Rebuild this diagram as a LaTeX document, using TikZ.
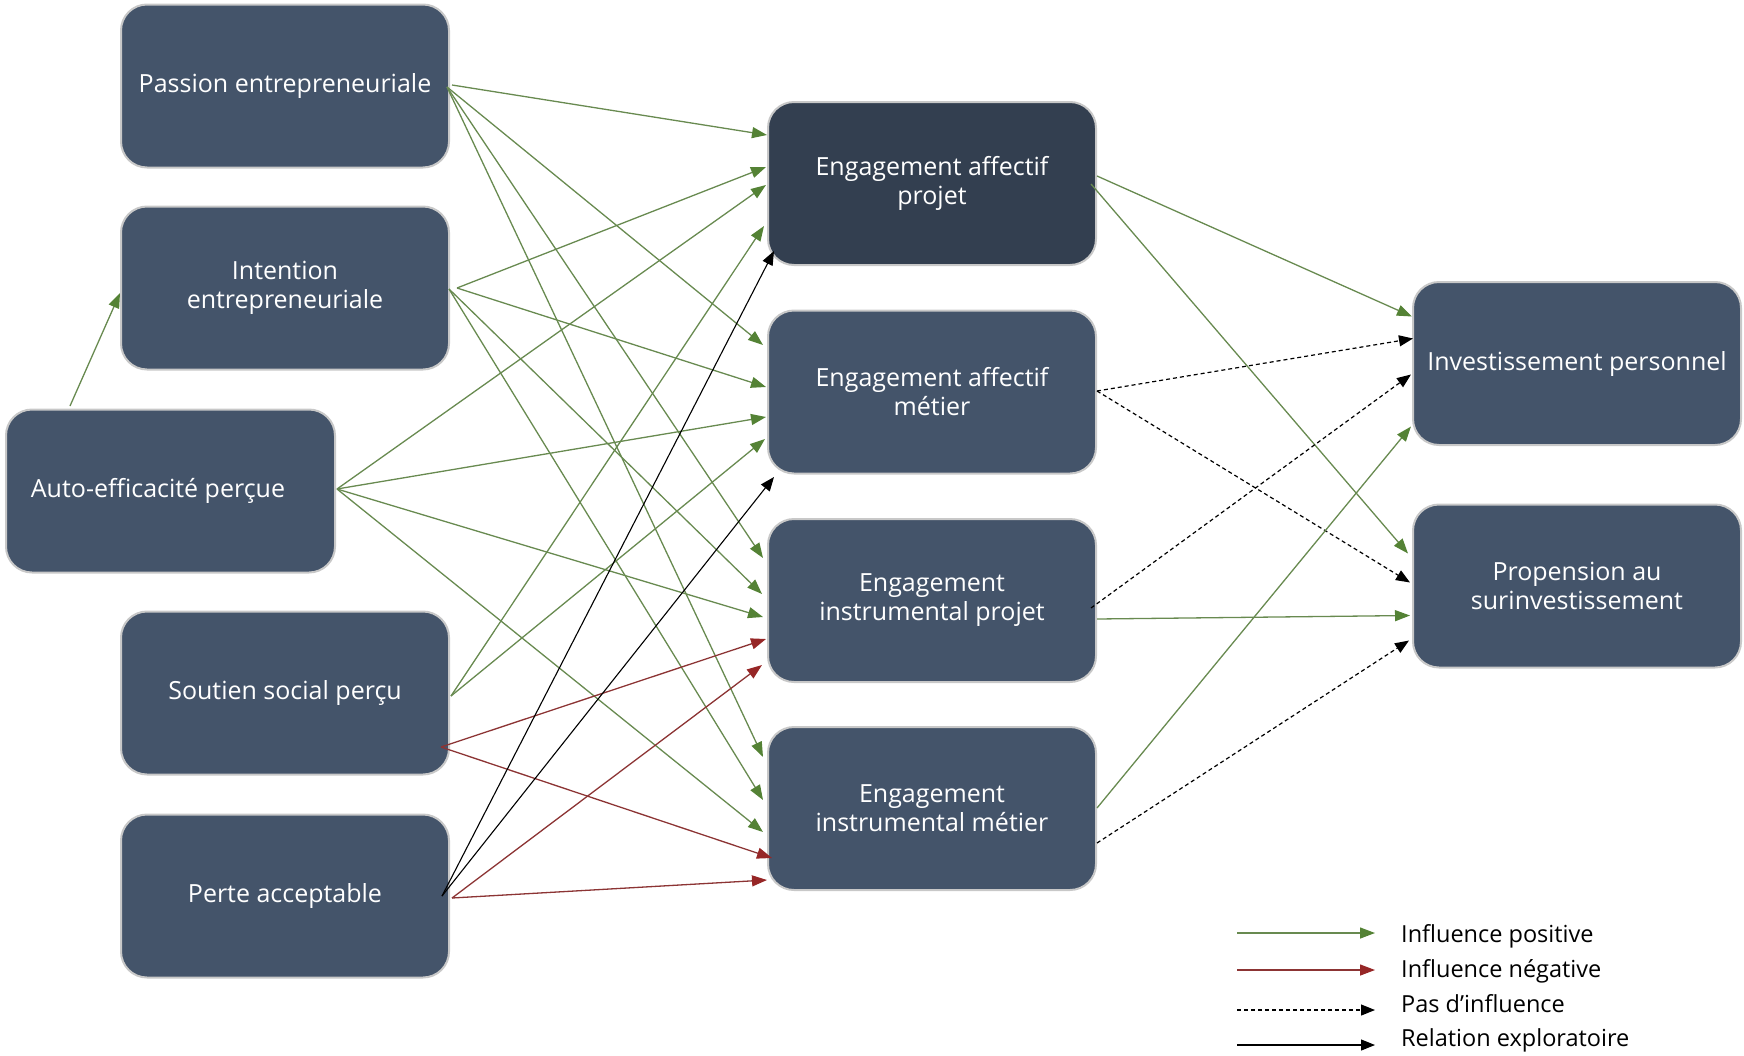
\documentclass[tikz,border=0pt]{standalone}
\usepackage{fontspec}
\setmainfont{Open Sans}
\usetikzlibrary{arrows.meta,calc}
\definecolor{boxfill}{RGB}{68,84,106}
\definecolor{boxdark}{RGB}{51,63,80}
\definecolor{boxborder}{RGB}{200,200,200}
\definecolor{gline}{RGB}{104,138,80}
\definecolor{ghead}{RGB}{84,130,53}
\definecolor{rline}{RGB}{140,52,52}
\definecolor{rhead}{RGB}{150,38,38}
\begin{document}
\begin{tikzpicture}[x=1pt,y=-1pt,
  box/.style={draw=boxborder, line width=2pt, fill=boxfill, rounded corners=26pt,
    minimum width=328pt, minimum height=163pt, text=white, align=center,
    font=\fontsize{25}{29}\selectfont, inner sep=0pt},
  posarr/.style={draw=gline, line width=1.3pt, -{Triangle[length=15pt,width=11pt,color=ghead]}},
  negarr/.style={draw=rline, line width=1.3pt, -{Triangle[length=15pt,width=11pt,color=rhead]}},
  nularr/.style={draw=black, line width=1.2pt, dash pattern=on 4pt off 3pt, -{Triangle[length=14pt,width=11pt]}},
  explarr/.style={draw=black, line width=1.1pt, -{Triangle[length=14pt,width=11pt]}},
  legtext/.style={font=\fontsize{23.5}{27}\selectfont, anchor=west, inner sep=0pt}
]
\useasboundingbox (0,0) rectangle (1744,1055);

% boxes
\node[box] (P) at (285,86) {Passion entrepreneuriale};
\node[box] (I) at (285,288) {Intention\\entrepreneuriale};
\node[box, minimum width=329pt] (A) at (170.5,491) {\hspace*{-25pt}Auto-efficacité perçue};
\node[box] (S) at (285,693) {Soutien social perçu};
\node[box] (L) at (285,896) {Perte acceptable};
\node[box, fill=boxdark] (EAP) at (932,183.5) {Engagement affectif\\projet};
\node[box] (EAM) at (932,392) {Engagement affectif\\métier};
\node[box] (EIP) at (932,600.5) {Engagement\\instrumental projet};
\node[box] (EIM) at (932,808.5) {Engagement\\instrumental métier};
\node[box] (INV) at (1577,363.5) {Investissement personnel};
\node[box] (PRO) at (1577,586) {Propension au\\surinvestissement};

% Passion
\draw[posarr] ($(P)+(167,-1)$) -- ($(EAP)+(-165,-48.5)$);
\draw[posarr] ($(P)+(162,1)$) -- ($(EAM)+(-169,-47)$);
\draw[posarr] ($(P)+(162,1)$) -- ($(EIP)+(-169,-42.5)$);
\draw[posarr] ($(P)+(162,1)$) -- ($(EIM)+(-169,-51.5)$);
% Intention
\draw[posarr] ($(I)+(172,0)$) -- ($(EAP)+(-166,-16.5)$);
\draw[posarr] ($(I)+(172,0)$) -- ($(EAM)+(-166,-5)$);
\draw[posarr] ($(I)+(164,1)$) -- ($(EIP)+(-170,-6.5)$);
\draw[posarr] ($(I)+(164,1)$) -- ($(EIM)+(-169,-8.5)$);
% Auto
\draw[posarr] ($(A)+(166.5,-2)$) -- ($(EAP)+(-166,1.5)$);
\draw[posarr] ($(A)+(166.5,-2)$) -- ($(EAM)+(-166,25)$);
\draw[posarr] ($(A)+(166.5,-2)$) -- ($(EIP)+(-169,16.5)$);
\draw[posarr] ($(A)+(166.5,-2)$) -- ($(EIM)+(-169,23.5)$);
\draw[posarr] ($(A)+(-100.5,-85)$) -- ($(I)+(-165,5)$);
% Soutien
\draw[posarr] ($(S)+(166,3)$) -- ($(EAP)+(-168,42.5)$);
\draw[posarr] ($(S)+(166,3)$) -- ($(EAM)+(-167,47)$);
\draw[negarr] ($(S)+(156,54)$) -- ($(EIP)+(-166,38.5)$);
\draw[negarr] ($(S)+(156,54)$) -- ($(EIM)+(-160,49.5)$);
% Perte
\draw[explarr] ($(L)+(157,0)$) -- ($(EAP)+(-158,67.5)$);
\draw[explarr] ($(L)+(157,0)$) -- ($(EAM)+(-158,85)$);
\draw[negarr] ($(L)+(167,2)$) -- ($(EIP)+(-170,64.5)$);
\draw[negarr] ($(L)+(167,2)$) -- ($(EIM)+(-165,71.5)$);
% right side
\draw[posarr] ($(EAP)+(165,-7.5)$) -- ($(INV)+(-165,-47)$);
\draw[posarr] ($(EAP)+(159,0.5)$) -- ($(PRO)+(-169,-32.5)$);
\draw[nularr] ($(EAM)+(165,-1)$) -- ($(INV)+(-164,-25)$);
\draw[nularr] ($(EAM)+(165,-1)$) -- ($(PRO)+(-167,-3.5)$);
\draw[nularr] ($(EIP)+(159,7.5)$) -- ($(INV)+(-166,11)$);
\draw[posarr] ($(EIP)+(165,18.5)$) -- ($(PRO)+(-167,29.5)$);
\draw[posarr] ($(EIM)+(165,-0.5)$) -- ($(INV)+(-166,63)$);
\draw[nularr] ($(EIM)+(165,34.5)$) -- ($(PRO)+(-168,54.5)$);

% legend
\coordinate (g1a) at (1237,933);  \coordinate (g1b) at (1375,933);
\coordinate (g2a) at (1237,970);  \coordinate (g2b) at (1375,970);
\coordinate (g3a) at (1237,1010); \coordinate (g3b) at (1375,1010);
\coordinate (g4a) at (1237,1045); \coordinate (g4b) at (1375,1045);
\draw[posarr] (g1a) -- (g1b);
\draw[negarr] (g2a) -- (g2b);
\draw[nularr] (g3a) -- (g3b);
\draw[explarr] (g4a) -- (g4b);
\node[legtext] (t1) at (1401,936) {Influence positive};
\node[legtext] (t2) at (1401,971) {Influence négative};
\node[legtext] (t3) at (1401,1004) {Pas d’influence};
\node[legtext] (t4) at (1401,1040) {Relation exploratoire};
\end{tikzpicture}
\end{document}
